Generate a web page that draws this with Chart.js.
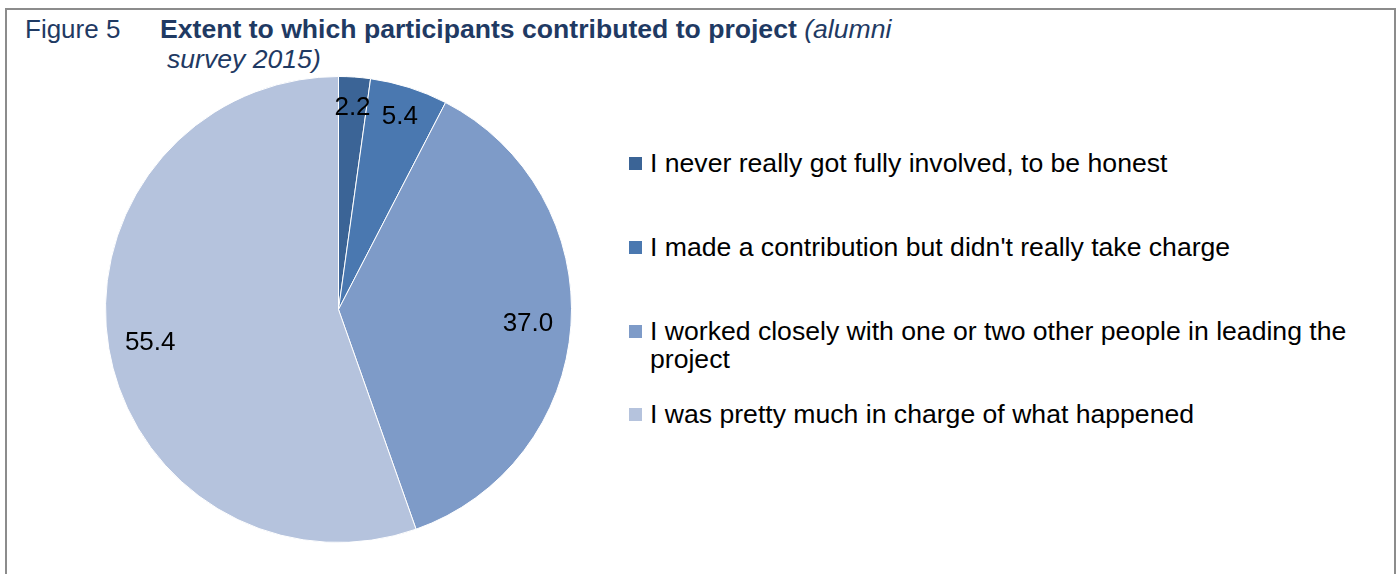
<!DOCTYPE html>
<html>
<head>
<meta charset="utf-8">
<script src="https://cdn.jsdelivr.net/npm/chart.js@4"></script>
<style>
    html, body { margin: 0; padding: 0; background: #fff; }
    body { width: 1399px; height: 574px; position: relative; overflow: hidden;
           font-family: Arial, 'Liberation Sans', sans-serif; }
    #frame { position: absolute; left: 5px; top: 8px; width: 1387px; height: 600px;
             border: 2px solid #8c8c8c; border-bottom: none; }
    .title { position: absolute; font-size: 26px; line-height: 30px; color: #1f3a63; white-space: nowrap; }
    .title.main { font-size: 26.6px; }
    #pie-wrap { position: absolute; left: 105px; top: 76px; width: 467px; height: 467px; }
    #legend .item { position: absolute; left: 629px; width: 740px; }
    #legend .box { position: absolute; left: 0; top: 8px; width: 13px; height: 13px; }
    #legend .text { position: absolute; left: 21px; width: 720px; font-size: 26.6px;
                    line-height: 28px; color: #000; }
</style>
</head>
<body>
<div id="frame"></div>
<div class="title" style="left:25px; top:14px;">Figure 5</div>
<div class="title main" style="left:160px; top:14px;"><b>Extent to which participants contributed to project</b> <i>(alumni</i></div>
<div class="title main" style="left:167px; top:44px;"><i>survey 2015)</i></div>
<div id="pie-wrap"><canvas id="pie"></canvas></div>
<div id="legend"></div>

<script>
// answers, in the order they go round the pie from 12 o'clock
const categories = [
    'I never really got fully involved, to be honest',
    "I made a contribution but didn't really take charge",
    'I worked closely with one or two other people in leading the project',
    'I was pretty much in charge of what happened'
];
const percentages = [2.2, 5.4, 37.0, 55.4];
const sliceColours = ['#3b6496', '#4a78b0', '#7e9bc8', '#b5c3dd'];

// how far out (share of radius) each value label sits
const labelRadius = [0.87, 0.87, 0.815, 0.82];
// top of each legend row
const legendTops = [149, 233, 317, 400];

// draws the value on each slice
const sliceLabels = {
    id: 'sliceLabels',
    afterDatasetsDraw(chart) {
        const ctx = chart.ctx;
        const meta = chart.getDatasetMeta(0);
        ctx.save();
        ctx.font = "26px Arial, 'Liberation Sans', sans-serif";
        ctx.fillStyle = '#000';
        ctx.textAlign = 'center';
        ctx.textBaseline = 'middle';
        meta.data.forEach((arc, i) => {
            const p = arc.getProps(['x', 'y', 'startAngle', 'endAngle', 'outerRadius'], true);
            const mid = (p.startAngle + p.endAngle) / 2;
            const r = p.outerRadius * labelRadius[i];
            const v = chart.data.datasets[0].data[i];
            ctx.fillText(v.toFixed(1), p.x + Math.cos(mid) * r, p.y + Math.sin(mid) * r + 1);
        });
        ctx.restore();
    }
};

const chart = new Chart(document.getElementById('pie'), {
    type: 'pie',
    data: {
        labels: categories,
        datasets: [{
            data: percentages,
            backgroundColor: sliceColours,
            borderColor: '#fff',
            borderWidth: 1
        }]
    },
    options: {
        responsive: true,
        maintainAspectRatio: false,
        animation: false,
        layout: { padding: 0 },
        plugins: {
            legend: { display: false },
            tooltip: { enabled: false }
        }
    },
    plugins: [sliceLabels]
});

// legend built from the chart's own legend items
const legendEl = document.getElementById('legend');
chart.options.plugins.legend.labels.generateLabels(chart).forEach((item, i) => {
    const row = document.createElement('div');
    row.className = 'item';
    row.style.top = legendTops[i] + 'px';
    const box = document.createElement('div');
    box.className = 'box';
    box.style.background = item.fillStyle;
    const txt = document.createElement('div');
    txt.className = 'text';
    txt.textContent = item.text;
    row.appendChild(box);
    row.appendChild(txt);
    legendEl.appendChild(row);
});
</script>
</body>
</html>
